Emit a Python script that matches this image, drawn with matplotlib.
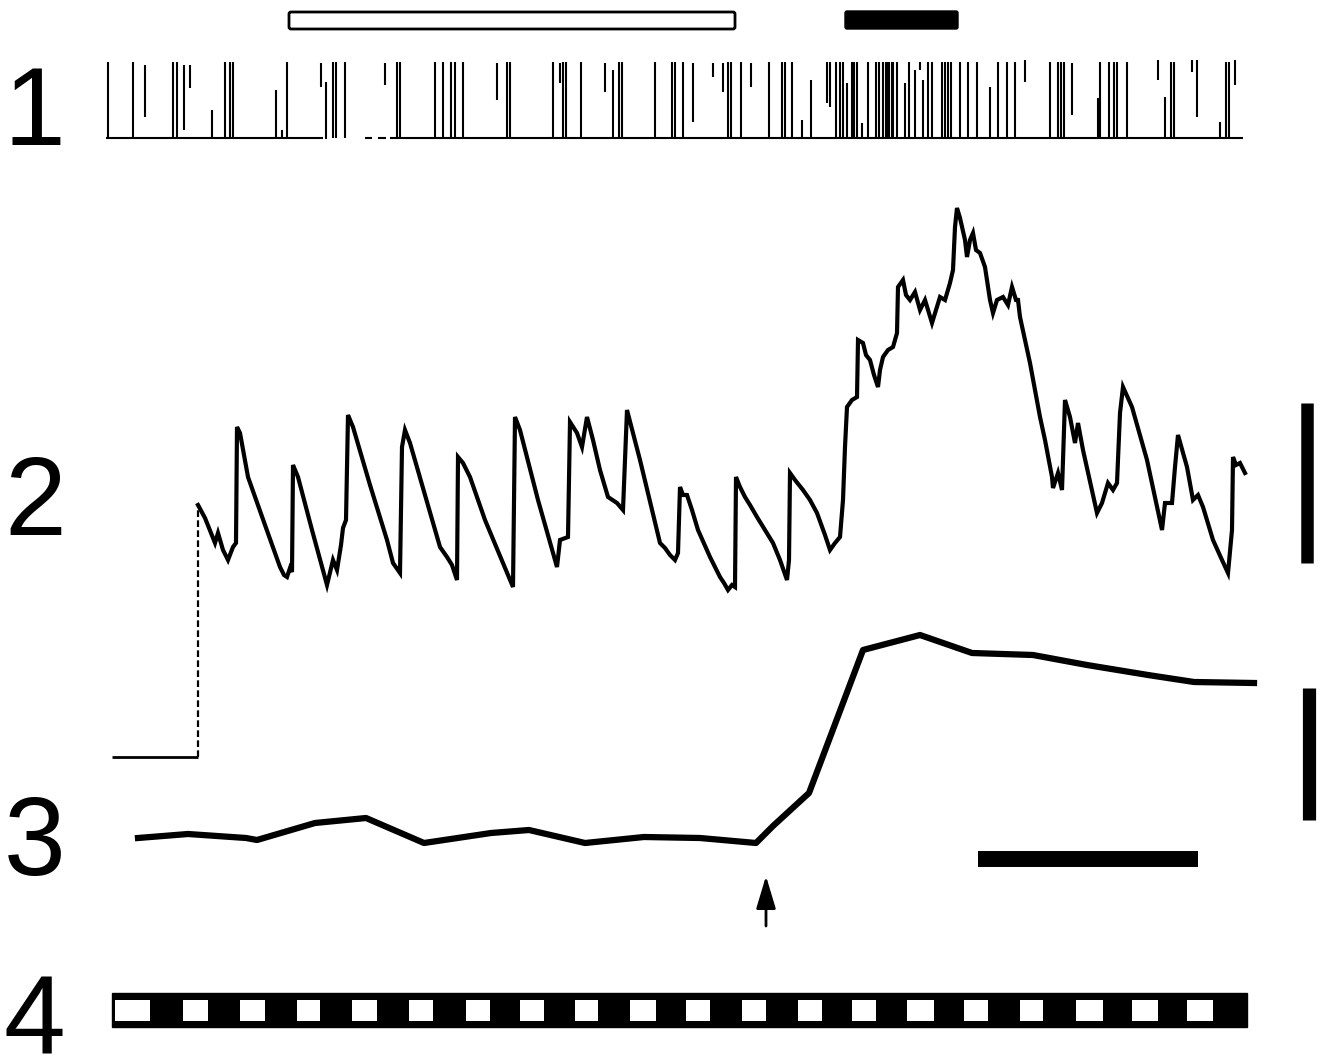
import numpy as np
import matplotlib.pyplot as plt
from matplotlib.patches import Rectangle, FancyBboxPatch

#Everything is in figure pixel units (x to the right, y downwards)

#Row 1: spike raster, full height spikes
spk_full = [108, 133, 173, 177, 225, 230, 233, 287, 333, 336, 345, 397, 400, 435, 443,
            451, 455, 463, 507, 510, 553, 563, 566, 581, 619, 622, 655, 672, 675, 683,
            728, 731, 741, 769, 782, 785, 792, 836, 840, 843, 852, 854, 857, 868, 876,
            879, 886, 889, 892, 883, 887, 893, 897, 909, 928, 932, 942, 945, 948, 951,
            960, 968, 977, 998, 1007, 1015, 1050, 1058, 1061, 1064, 1100, 1109, 1114,
            1117, 1127, 1171, 1174, 1226, 1229]
#partial spikes: x, top, bottom
spk_part_x   = [145, 184, 190, 212, 276, 282, 321, 326, 385, 497, 560, 605, 613, 693, 713,
                723, 751, 802, 811, 827, 830, 847, 862, 905, 915, 920, 923, 990, 1025,
                1072, 1098, 1158, 1165, 1192, 1197, 1220, 1235]
spk_part_top = [65, 65, 65, 110, 90, 130, 63, 82, 63, 63, 63, 63, 70, 63, 63,
                63, 63, 120, 80, 62, 62, 83, 123, 83, 70, 62, 80, 87, 60,
                63, 98, 60, 97, 60, 60, 122, 60]
spk_part_bot = [117, 130, 88, 139, 139, 139, 87, 139, 85, 100, 83, 92, 138, 122, 77,
                92, 87, 138, 138, 103, 107, 138, 138, 138, 138, 70, 138, 138, 82,
                115, 138, 80, 138, 72, 117, 138, 85]
spk_top, spk_base = 62, 138
base_segs = [(106, 323), (365, 372), (378, 386), (390, 1243)]

#Top stimulus bars
open_bar = (289, 735)
black_bar = (845, 958)

#Row 2: voltage trace (x, y)
tr2_x = [198, 205, 215, 218, 223, 228, 233, 236, 237, 240, 248, 265, 280, 284, 287, 290, 292,
         293, 298, 312, 327, 333, 337, 341, 343, 346, 348, 353, 370, 387, 393, 400, 402, 405,
         410, 425, 440, 447, 452, 457, 458, 463, 470, 485, 503, 508, 513, 515, 520, 538, 557,
         560, 568, 570, 577, 582, 587, 593, 600, 608, 617, 623, 627, 640, 660, 665, 670, 675,
         678, 680, 683, 687, 692, 698, 710, 720, 724, 728, 732, 735, 736, 740, 745, 750, 757,
         765, 773, 780, 787, 789, 790, 795, 803, 810, 817, 825, 830, 835, 840, 843, 845, 847,
         852, 857, 858, 863, 866, 870, 874, 878, 880, 883, 888, 893, 897, 898, 903, 906, 910,
         915, 920, 925, 932, 936, 940, 945, 950, 953, 955, 957, 960, 962, 965, 967, 970, 973,
         976, 980, 985, 990, 993, 997, 1003, 1008, 1012, 1016, 1018, 1020, 1030, 1040, 1045,
         1052, 1053, 1058, 1062, 1065, 1070, 1075, 1078, 1083, 1097, 1102, 1108, 1113, 1117,
         1120, 1123, 1132, 1147, 1162, 1165, 1172, 1175, 1178, 1187, 1193, 1198, 1203, 1213,
         1222, 1228, 1232, 1233, 1236, 1240, 1245]
tr2_y = [505, 518, 543, 533, 550, 560, 547, 543, 427, 433, 477, 525, 567, 575, 577, 568, 572,
         465, 477, 530, 585, 560, 570, 545, 528, 520, 415, 427, 485, 540, 563, 573, 447, 430,
         443, 495, 547, 557, 565, 580, 457, 463, 477, 520, 563, 575, 587, 417, 430, 500, 567,
         540, 537, 422, 433, 447, 417, 440, 470, 497, 503, 510, 410, 460, 543, 548, 555, 560,
         553, 487, 495, 495, 510, 530, 557, 577, 583, 590, 585, 587, 477, 487, 497, 505, 517,
         530, 543, 560, 580, 560, 473, 480, 490, 500, 513, 535, 550, 543, 537, 500, 447, 407,
         400, 397, 340, 343, 355, 360, 375, 387, 370, 357, 350, 347, 333, 287, 280, 295, 300,
         292, 310, 300, 323, 310, 297, 300, 283, 270, 227, 208, 218, 227, 240, 257, 240, 233,
         250, 253, 267, 300, 313, 300, 297, 305, 287, 300, 300, 317, 363, 417, 440,
         477, 488, 473, 490, 400, 417, 443, 423, 450, 513, 503, 483, 490, 483,
         413, 387, 407, 460, 530, 503, 503, 467, 435, 467, 500, 495, 507, 540,
         560, 573, 530, 457, 465, 463, 473]
step_x = [112, 198]
step_y = 757

#Row 3: slow trace
tr3_x = [138, 188, 246, 257, 315, 366, 424, 491, 529, 585, 644, 700, 756, 773, 809,
         863, 920, 972, 1033, 1087, 1148, 1194, 1254]
tr3_y = [838, 834, 838, 840, 823, 818, 843, 833, 830, 843, 837, 838, 843, 826, 793,
         650, 635, 653, 655, 665, 675, 682, 683]
arrow_x = 766

#Row 4: timing bar, white squares (left, right)
sq_left  = [115, 183, 240, 297, 352, 409, 466, 520, 575, 630, 686, 742, 798, 852, 907,
            964, 1020, 1076, 1132, 1187]
sq_right = [150, 208, 265, 320, 377, 433, 490, 544, 598, 656, 710, 766, 822, 876, 934,
            988, 1043, 1103, 1158, 1213]
bar4 = (112, 1247)

labels = ['1', '2', '3', '4']
label_y = [145, 535, 875, 1054]


fig = plt.figure(figsize=(13.28, 10.61), dpi=100)
ax = fig.add_axes([0, 0, 1, 1])
ax.set_xlim(0, 1328)
ax.set_ylim(1061, 0)
ax.axis('off')

#Spikes
ax.vlines(spk_full, spk_top, spk_base, color='k', lw=1.5)
ax.vlines(spk_part_x, spk_part_top, spk_part_bot, color='k', lw=1.5)
for a, b in base_segs:
    ax.plot([a, b], [spk_base, spk_base], color='k', lw=1.5, solid_capstyle='butt')

#Stimulus bars on top
ax.add_patch(FancyBboxPatch((open_bar[0], 12), open_bar[1]-open_bar[0], 17,
                            boxstyle='round,pad=0,rounding_size=2', fc='white', ec='k', lw=2))
ax.add_patch(FancyBboxPatch((black_bar[0], 11), black_bar[1]-black_bar[0], 18,
                            boxstyle='round,pad=0,rounding_size=2', fc='k', ec='k', lw=1))

#Trace 2
ax.plot(step_x, [step_y, step_y], color='k', lw=2, solid_capstyle='butt')
ax.plot([tr2_x[0], tr2_x[0]], [step_y, tr2_y[0]], color='k', lw=1.6, ls=(0, (3, 1.5)))
ax.plot(tr2_x, tr2_y, color='k', lw=3.0, solid_joinstyle='miter')

#Trace 3
ax.plot(tr3_x, tr3_y, color='k', lw=4.5)
ax.annotate('', xy=(arrow_x, 876), xytext=(arrow_x, 926),
            arrowprops=dict(arrowstyle='-|>,head_length=1.0,head_width=0.3',
                            mutation_scale=20, lw=2, color='k', shrinkA=0, shrinkB=0))

#Scale bars
ax.plot([1307, 1307], [403, 563], color='k', lw=9, solid_capstyle='butt')
ax.plot([1309, 1309], [688, 820], color='k', lw=9.5, solid_capstyle='butt')
ax.plot([978, 1198], [859, 859], color='k', lw=11.5, solid_capstyle='butt')

#Timing bar
ax.add_patch(Rectangle((bar4[0], 993), bar4[1]-bar4[0], 34, fc='k', ec='k', lw=1))
for l, r in zip(sq_left, sq_right):
    ax.add_patch(Rectangle((l, 1000), r-l, 21, fc='white', ec='none'))

#Row labels
for t, y in zip(labels, label_y):
    ax.text(4, y, t, fontsize=80, family='Liberation Sans', ha='left', va='baseline')

plt.savefig('out.png', dpi=100)
